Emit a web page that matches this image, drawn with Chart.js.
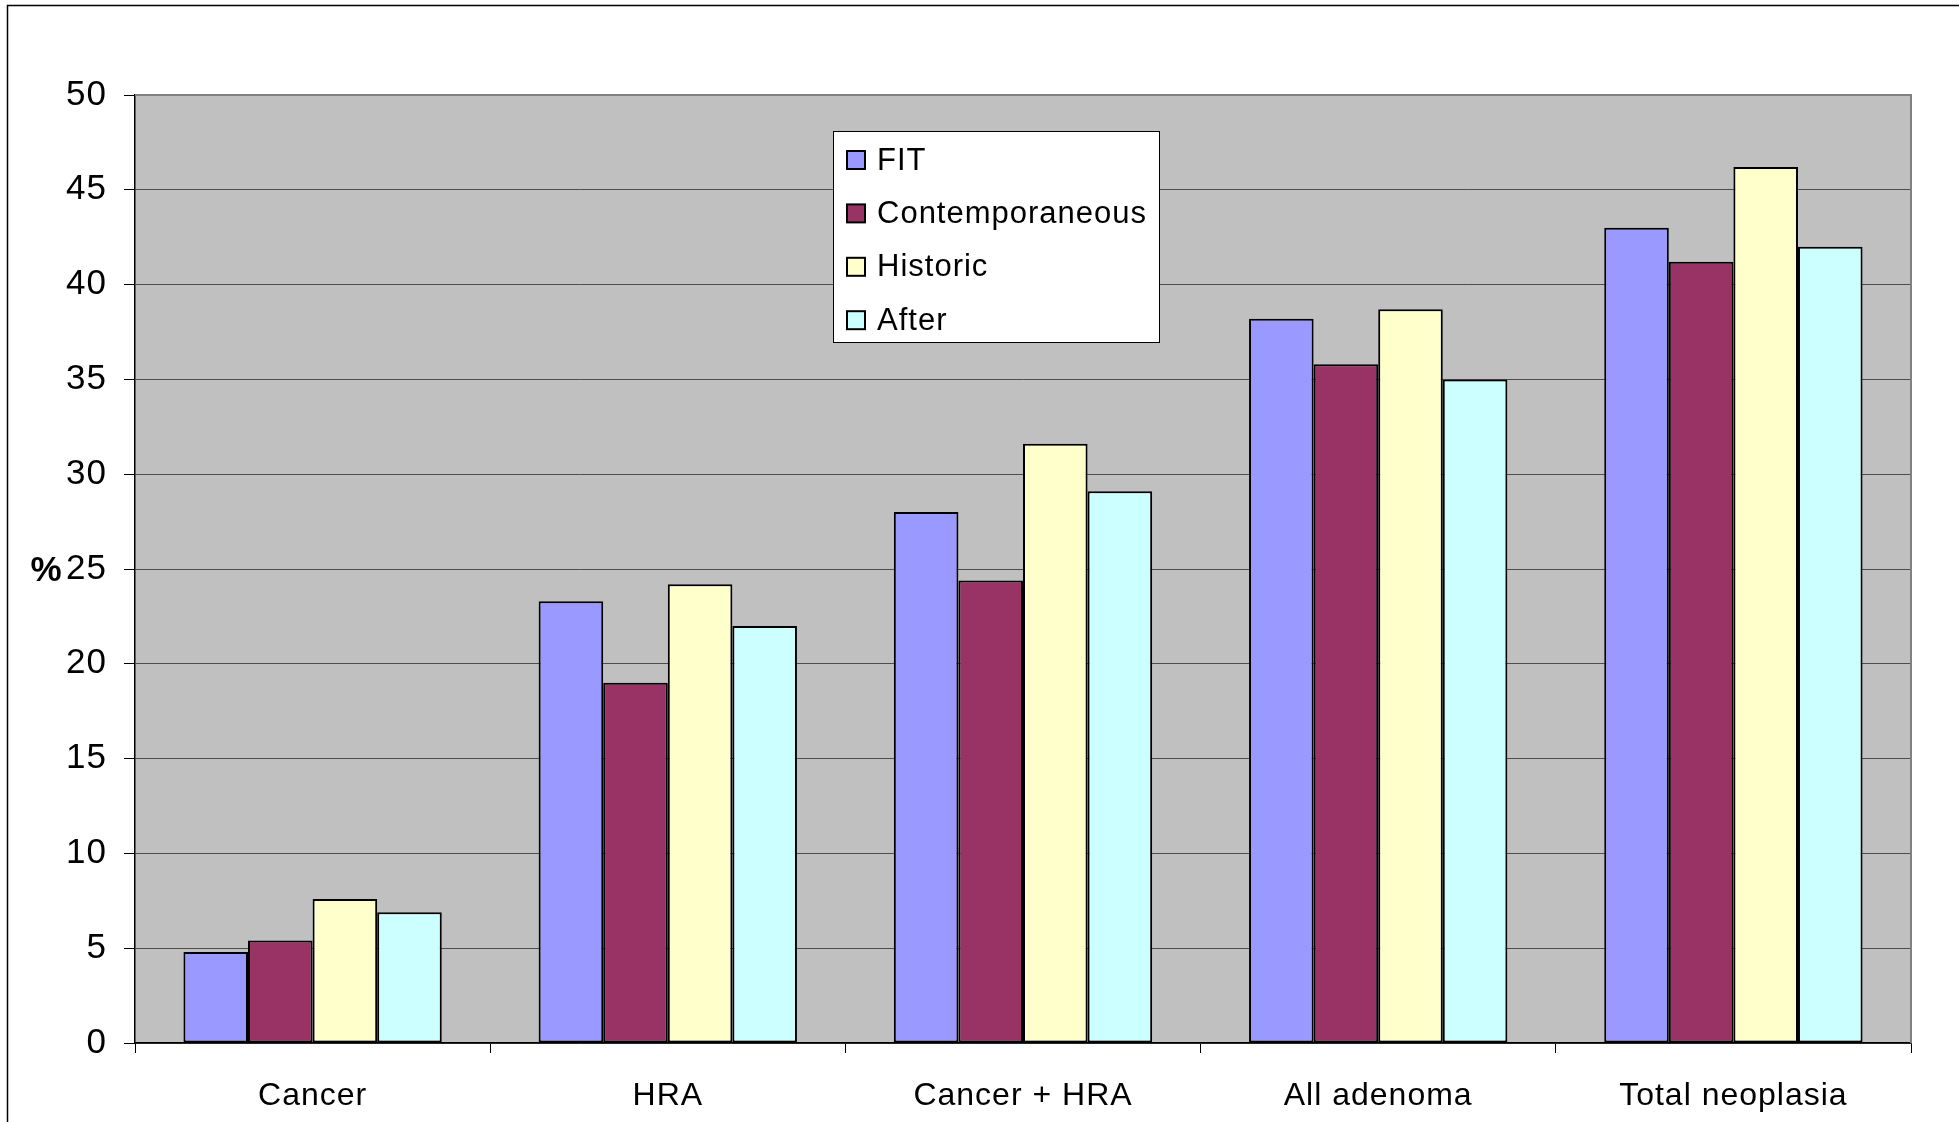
<!DOCTYPE html>
<html>
<head>
<meta charset="utf-8">
<script src="https://cdn.jsdelivr.net/npm/chart.js@4/dist/chart.umd.min.js"></script>
<style>
  html, body { margin: 0; padding: 0; background: #ffffff; }
  #wrap { width: 1959px; height: 1122px; }
</style>
</head>
<body>
<div id="wrap"><canvas id="chart" width="1959" height="1122"></canvas></div>
<script>
// Detection rates (%) by finding, for each cohort
const categories = ['Cancer', 'HRA', 'Cancer + HRA', 'All adenoma', 'Total neoplasia'];
const seriesNames = ['FIT', 'Contemporaneous', 'Historic', 'After'];
const fitValues = [4.8, 23.3, 28.0, 38.2, 43.0];
const contemporaneousValues = [5.4, 19.0, 24.4, 35.8, 41.2];
const historicValues = [7.6, 24.2, 31.6, 38.7, 46.2];
const afterValues = [6.9, 22.0, 29.1, 35.0, 42.0];
const yTicks = [0, 5, 10, 15, 20, 25, 30, 35, 40, 45, 50];
const yAxisLabel = '%';

const seriesColors = ['#9999FF', '#993366', '#FFFFCC', '#CCFFFF'];
const seriesValues = [fitValues, contemporaneousValues, historicValues, afterValues];
const FONT = '"Liberation Sans", Arial, Helvetica, sans-serif';

// Text spacing, plot-area background, frame, legend box and axis label
const decorations = {
  id: 'decorations',
  beforeLayout(chart) {
    chart.ctx.letterSpacing = '1px';
  },
  beforeDraw(chart) {
    const ctx = chart.ctx;
    const a = chart.chartArea;
    ctx.save();
    ctx.fillStyle = '#ffffff';
    ctx.fillRect(0, 0, chart.width, chart.height);
    ctx.fillStyle = '#C0C0C0';
    ctx.fillRect(a.left, a.top, a.right - a.left, a.bottom - a.top);
    ctx.restore();
    ctx.letterSpacing = '1px';
  },
  afterDraw(chart) {
    const ctx = chart.ctx;
    const a = chart.chartArea;
    ctx.save();
    // outer frame
    ctx.strokeStyle = '#000000';
    ctx.lineWidth = 1.5;
    ctx.strokeRect(7.5, 5.5, 2400, 2400);
    // plot-area edge on top and right
    ctx.strokeStyle = '#808080';
    ctx.lineWidth = 2;
    ctx.beginPath();
    ctx.moveTo(a.left, a.top);
    ctx.lineTo(a.right, a.top);
    ctx.lineTo(a.right, a.bottom);
    ctx.stroke();

    // axis label
    ctx.letterSpacing = '0px';
    ctx.fillStyle = '#000000';
    ctx.font = 'bold 35px ' + FONT;
    ctx.textAlign = 'center';
    ctx.textBaseline = 'middle';
    ctx.fillText(yAxisLabel, 46, (a.top + a.bottom) / 2 + 2);

    // legend
    const box = { x: 833.5, y: 131.5, w: 326, h: 211 };
    ctx.fillStyle = '#ffffff';
    ctx.fillRect(box.x, box.y, box.w, box.h);
    ctx.strokeStyle = '#000000';
    ctx.lineWidth = 1;
    ctx.strokeRect(box.x, box.y, box.w, box.h);
    ctx.font = '31px ' + FONT;
    ctx.textAlign = 'left';
    ctx.letterSpacing = '1px';
    chart.data.datasets.forEach((ds, i) => {
      const cy = 160 + i * 53.4;
      ctx.fillStyle = ds.backgroundColor;
      ctx.fillRect(847, cy - 9, 18, 18);
      ctx.strokeStyle = '#000000';
      ctx.lineWidth = 2;
      ctx.strokeRect(847, cy - 9, 18, 18);
      ctx.fillStyle = '#000000';
      ctx.fillText(ds.label, 877, cy + 1);
    });
    ctx.restore();
  }
};

const datasets = seriesNames.map((name, i) => ({
  label: name,
  data: seriesValues[i],
  backgroundColor: seriesColors[i],
  borderColor: '#000000',
  borderWidth: 2,
  borderSkipped: false,
  categoryPercentage: 4 / 5.5,
  barPercentage: 1.0
}));

new Chart(document.getElementById('chart'), {
  type: 'bar',
  data: { labels: categories, datasets: datasets },
  plugins: [decorations],
  options: {
    responsive: false,
    animation: false,
    devicePixelRatio: 1,
    layout: { padding: { left: 0, top: 95, right: 48, bottom: 0 } },
    plugins: {
      legend: { display: false },
      tooltip: { enabled: false },
      title: { display: false }
    },
    scales: {
      x: {
        offset: true,
        grid: {
          offset: true,
          drawOnChartArea: false,
          drawTicks: true,
          tickLength: 10,
          tickColor: '#000000',
          tickWidth: 1
        },
        border: { display: true, color: '#000000', width: 1.5 },
        ticks: {
          color: '#000000',
          font: { family: FONT, size: 32 },
          padding: 24,
          maxRotation: 0,
          autoSkip: false
        },
        afterFit(scale) { scale.height = 79; }
      },
      y: {
        min: 0,
        max: 50,
        afterBuildTicks(scale) {
          scale.ticks = yTicks.map(v => ({ value: v }));
        },
        grid: {
          color: '#4d4d4d',
          lineWidth: 1,
          drawTicks: true,
          tickLength: 11,
          tickColor: '#000000'
        },
        border: { display: true, color: '#000000', width: 1.5 },
        ticks: {
          color: '#000000',
          font: { family: FONT, size: 35 },
          padding: 17
        },
        afterFit(scale) { scale.width = 135; }
      }
    }
  }
});
</script>
</body>
</html>
